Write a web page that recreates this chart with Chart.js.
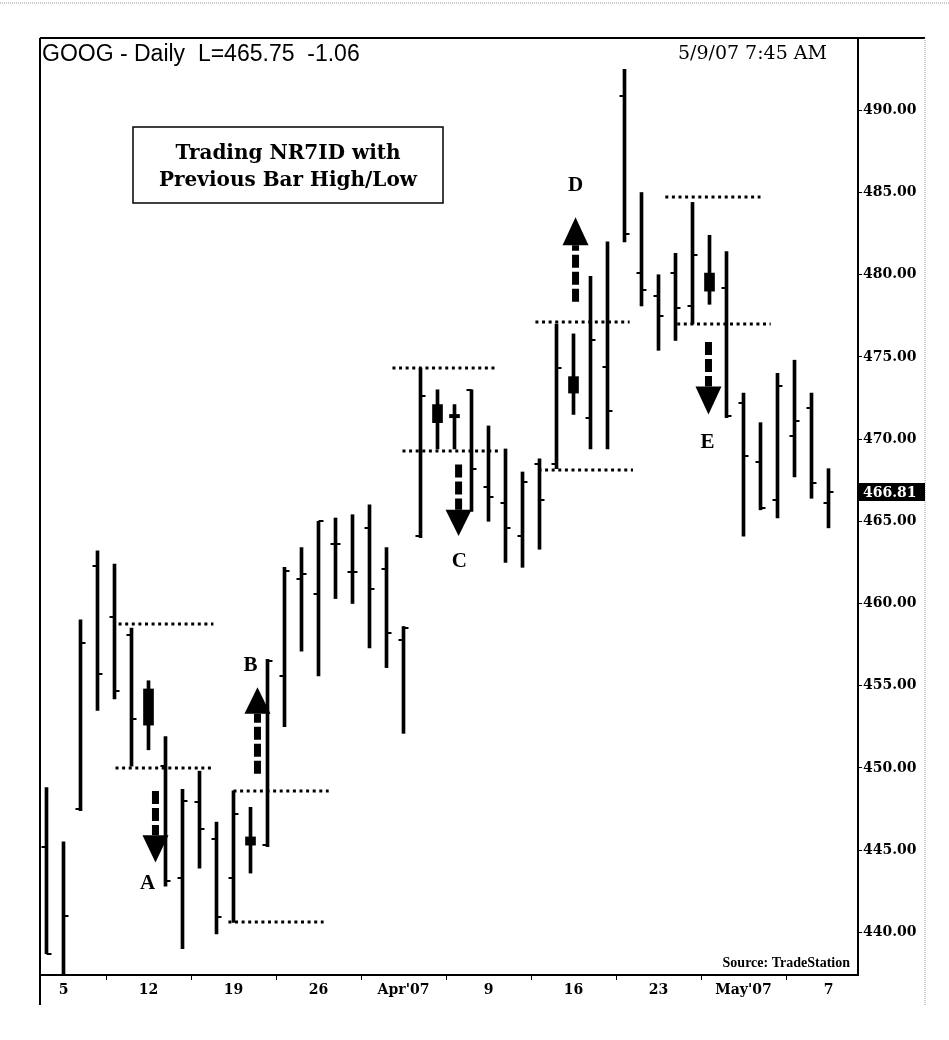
<!DOCTYPE html>
<html><head><meta charset="utf-8">
<script src="https://cdn.jsdelivr.net/npm/chart.js@4.4.1/dist/chart.umd.min.js"></script>
<style>html,body{margin:0;padding:0;background:#fff;}#wrap{width:949px;height:1040px;position:relative;}canvas{display:block;}</style>
</head><body><div id="wrap"><canvas id="c" width="949" height="1040"></canvas></div>
<script>
// ---- data ----
const dates  = ['3/2','3/5','3/6','3/7','3/8','3/9','3/12','3/13','3/14','3/15','3/16','3/19','3/20','3/21','3/22','3/23','3/26','3/27','3/28','3/29','3/30','4/2','4/3','4/4','4/5','4/9','4/10','4/11','4/12','4/13','4/16','4/17','4/18','4/19','4/20','4/23','4/24','4/25','4/26','4/27','4/30','5/1','5/2','5/3','5/4','5/7','5/8'];
const opens  = [445.2,437.0,447.5,462.3,459.2,458.1,452.6,450.1,443.3,447.9,445.7,443.3,445.8,445.3,455.6,461.5,460.6,463.6,461.9,464.6,462.1,457.8,464.1,472.1,471.3,473.0,467.1,466.1,464.1,468.5,468.5,473.8,471.3,474.4,490.9,480.1,478.7,480.1,478.1,480.1,479.2,472.2,468.6,466.3,470.2,471.9,466.1];
const highs  = [448.8,445.5,459.0,463.2,462.4,458.5,455.3,451.9,448.7,449.8,446.7,448.6,447.6,456.6,462.2,463.4,465.0,465.2,465.4,466.0,463.4,458.6,474.3,473.0,472.1,473.0,470.8,469.4,468.0,468.8,477.0,476.4,479.9,482.0,492.5,485.0,480.0,481.3,484.4,482.4,481.4,472.8,471.0,474.0,474.8,472.8,468.2];
const lows   = [438.7,437.0,447.4,453.5,454.2,450.1,451.1,442.8,439.0,443.9,439.9,440.6,443.6,445.2,452.5,457.1,455.6,460.3,460.0,457.3,456.1,452.1,464.0,469.4,469.4,465.6,465.0,462.5,462.2,463.3,468.2,471.5,469.4,469.4,482.0,478.1,475.4,476.0,477.0,478.2,471.3,464.1,465.7,465.2,467.7,466.4,464.6];
const closes = [438.7,441.0,457.6,455.7,454.7,453.0,454.8,443.1,448.0,446.3,440.9,447.2,445.3,456.5,462.0,461.8,465.0,463.6,461.9,460.9,458.2,458.5,472.6,471.0,471.5,468.2,466.5,464.6,467.4,466.3,474.3,472.8,476.0,471.7,482.5,479.1,477.5,478.0,481.2,479.0,471.4,469.0,465.8,473.2,471.1,467.3,466.8];
const nr7Bars = [6, 12, 23, 24, 31, 39];           // bars drawn with a body (NR7 inside days)
const lastPrice = 466.81;

const yTickValues = [440,445,450,455,460,465,470,475,480,485,490];
const xTickIndex  = [1, 6, 11, 16, 21, 26, 31, 36, 41, 46];
const xTickText   = ['5','12','19','26',"Apr'07",'9','16','23',"May'07",'7'];

// previous-bar high/low levels (price, from bar, to bar)
const levelPrice = [458.75, 450.0, 448.6, 440.6, 474.3, 469.25, 477.1, 468.15, 484.7, 477.0];
const levelFrom  = [4.24, 4.06, 11.0, 10.7, 20.35, 20.94, 28.76, 28.94, 36.4, 37.1];
const levelTo    = [9.82, 9.76, 16.6, 16.3, 26.5, 26.7, 34.3, 34.5, 42.0, 42.6];

// signal arrows (bar position, tail price, head-base price, tip price)
const arrowX    = [6.41, 12.41, 24.24, 31.12, 38.94];
const arrowTail = [448.6, 449.65, 468.45, 478.35, 475.9];
const arrowBase = [445.9, 453.3, 465.7, 481.8, 473.2];
const arrowTip  = [444.25, 454.9, 464.1, 483.5, 471.5];
const letterText = ['A','B','C','D','E'];
const letterX    = [5.94, 12.0, 24.29, 31.12, 38.88];
const letterY    = [443.0, 456.3, 462.6, 485.5, 469.85];

const titleText = 'GOOG - Daily  L=465.75  -1.06';
const stampText = '5/9/07 7:45 AM';
const boxLines  = ['Trading NR7ID with', 'Previous Bar High/Low'];
const sourceText = 'Source: TradeStation';

// ---- tick images for open (left) and close (right) ----
function tickImg(left){
  const c = document.createElement('canvas'); c.width = 12; c.height = 2;
  const g = c.getContext('2d'); g.fillStyle = '#000';
  g.fillRect(left ? 1 : 6, 0, 5, 2);
  return c;
}
const openTick = tickImg(true), closeTick = tickImg(false);

const bodyData = nr7Bars.map(i => ({x:i, y:[Math.min(opens[i],closes[i]), Math.max(opens[i],closes[i])]}));
const openData = dates.map((d,i)=>i).filter(i=>!nr7Bars.includes(i)).map(i=>({x:i, y:opens[i]}));
const closeData = dates.map((d,i)=>i).filter(i=>!nr7Bars.includes(i)).map(i=>({x:i, y:closes[i]}));

const W = 949, H = 1040;
const frameRight = 925;

const decor = {
  id: 'decor',
  beforeDraw(chart){
    const {ctx} = chart;
    ctx.save(); ctx.fillStyle = '#fff'; ctx.fillRect(0,0,W,H); ctx.restore();
  },
  afterDatasetsDraw(chart){
    const {ctx, chartArea:a, scales:{x, y}} = chart;
    ctx.save();
    ctx.beginPath(); ctx.rect(a.left, a.top, a.right-a.left, a.bottom-a.top); ctx.clip();
    // dotted levels
    ctx.strokeStyle = '#000'; ctx.lineWidth = 3; ctx.setLineDash([3,3.6]);
    levelPrice.forEach((p,k)=>{
      const yy = Math.round(y.getPixelForValue(p));
      ctx.beginPath(); ctx.moveTo(x.getPixelForValue(levelFrom[k]), yy); ctx.lineTo(x.getPixelForValue(levelTo[k]), yy); ctx.stroke();
    });
    // arrows
    arrowX.forEach((v,k)=>{
      const xx = x.getPixelForValue(v);
      const yt = y.getPixelForValue(arrowTail[k]), yb = y.getPixelForValue(arrowBase[k]), yp = y.getPixelForValue(arrowTip[k]);
      ctx.setLineDash([13,4]); ctx.lineWidth = 7; ctx.strokeStyle = '#000';
      ctx.beginPath(); ctx.moveTo(xx, yt); ctx.lineTo(xx, yb); ctx.stroke();
      ctx.setLineDash([]);
      ctx.fillStyle = '#000';
      ctx.beginPath(); ctx.moveTo(xx-13, yb); ctx.lineTo(xx+13, yb); ctx.lineTo(xx, yp); ctx.closePath(); ctx.fill();
    });
    // letters
    ctx.font = 'bold 21px "Liberation Serif"'; ctx.textAlign = 'center'; ctx.textBaseline = 'middle';
    letterText.forEach((t,k)=>{
      const xx = x.getPixelForValue(letterX[k]), yy = y.getPixelForValue(letterY[k]);
      const w = ctx.measureText(t).width;
      ctx.fillStyle = '#fff'; ctx.fillRect(xx - w/2 - 6, yy - 12, w + 12, 24);
      ctx.fillStyle = '#000'; ctx.fillText(t, xx, yy+1);
    });
    // source
    ctx.font = 'bold 14px "Liberation Serif"'; ctx.textAlign = 'right'; ctx.textBaseline = 'middle';
    ctx.fillText(sourceText, a.right - 8, a.bottom - 12);
    ctx.restore();

    // title + stamp
    ctx.save();
    ctx.fillStyle = '#000'; ctx.textBaseline = 'middle';
    ctx.font = '23px "Liberation Sans"'; ctx.textAlign = 'left';
    ctx.fillText(titleText, a.left + 2, a.top + 17);
    ctx.font = '19px "DejaVu Serif"'; ctx.textAlign = 'right';
    ctx.fillText(stampText, 827, a.top + 16);
    // text box
    ctx.lineWidth = 1.5; ctx.strokeStyle = '#000';
    ctx.fillStyle = '#fff'; ctx.fillRect(133, 127, 310, 76); ctx.strokeRect(133, 127, 310, 76);
    ctx.fillStyle = '#000'; ctx.font = 'bold 20px "DejaVu Serif"'; ctx.textAlign = 'center';
    ctx.fillText(boxLines[0], 288, 154); ctx.fillText(boxLines[1], 288, 181);
    ctx.restore();
  },
  afterDraw(chart){
    const {ctx, chartArea:a, scales:{y}} = chart;
    ctx.save();
    ctx.strokeStyle = '#000'; ctx.lineWidth = 2;
    ctx.beginPath(); ctx.moveTo(a.left, a.top); ctx.lineTo(frameRight, a.top); ctx.stroke();
    ctx.beginPath(); ctx.moveTo(a.left, a.top); ctx.lineTo(a.left, a.bottom + 30); ctx.stroke();
    ctx.strokeStyle = '#999'; ctx.lineWidth = 1; ctx.setLineDash([1,1]);
    ctx.beginPath(); ctx.moveTo(frameRight, a.top); ctx.lineTo(frameRight, a.bottom + 30); ctx.stroke();
    ctx.beginPath(); ctx.moveTo(0, 3); ctx.lineTo(W, 3); ctx.stroke();
    ctx.setLineDash([]);
    // last price marker
    const yy = Math.round(y.getPixelForValue(lastPrice));
    ctx.fillStyle = '#000'; ctx.fillRect(a.right, yy - 9, frameRight - a.right, 18);
    ctx.fillStyle = '#fff'; ctx.font = 'bold 14px "DejaVu Serif"'; ctx.textAlign = 'left'; ctx.textBaseline = 'middle';
    ctx.fillText(lastPrice.toFixed(2), a.right + 5, yy + 1);
    ctx.restore();
  }
};

new Chart(document.getElementById('c'), {
  type: 'bar',
  data: { datasets: [
    { type:'bar', label:'High-Low', data: dates.map((d,i)=>({x:i, y:[lows[i], highs[i]]})), backgroundColor:'#000', barThickness:3, grouped:false, clip:0 },
    { type:'bar', label:'Body', data: bodyData, backgroundColor:'#000', barThickness:10, grouped:false, clip:0, minBarLength:3 },
    { type:'line', label:'Open', data: openData, showLine:false, pointStyle: openTick, pointRadius:4, clip:0 },
    { type:'line', label:'Close', data: closeData, showLine:false, pointStyle: closeTick, pointRadius:4, clip:0 }
  ]},
  options: {
    responsive:false, animation:false, events:[],
    layout:{ padding:{ left:40, top:38, right: W - frameRight, bottom:30 } },
    plugins:{ legend:{display:false}, tooltip:{enabled:false}, title:{display:false} },
    scales:{
      x:{ type:'linear', offset:false, min: -6.5/17, max: -6.5/17 + 818/17,
          afterBuildTicks(s){ s.ticks = xTickIndex.map(v=>({value:v})); },
          afterFit(s){ s.height = 35; s.paddingLeft = 0; s.paddingRight = 0; },
          grid:{ display:true, drawOnChartArea:false, drawTicks:true, tickLength:5, color:'#000', lineWidth:1 },
          border:{ display:true, color:'#000', width:2 },
          ticks:{ autoSkip:false, maxRotation:0, padding:2, color:'#000', font:{family:'"DejaVu Serif"', size:14, weight:'bold'},
                  callback:(v,i)=>xTickText[i] } },
      y:{ type:'linear', position:'right', min:437.4, max:494.4,
          afterBuildTicks(s){ s.ticks = yTickValues.map(v=>({value:v})); },
          afterFit(s){ s.width = frameRight - 858; s.paddingTop = 0; s.paddingBottom = 0; },
          grid:{ display:true, drawOnChartArea:false, drawTicks:true, tickLength:4, color:'#000', lineWidth:1 },
          border:{ display:true, color:'#000', width:2 },
          ticks:{ autoSkip:false, padding:1, color:'#000', font:{family:'"DejaVu Serif"', size:14, weight:'bold'},
                  callback:v=>Number(v).toFixed(2) } }
    }
  },
  plugins:[decor]
});
</script></body></html>
